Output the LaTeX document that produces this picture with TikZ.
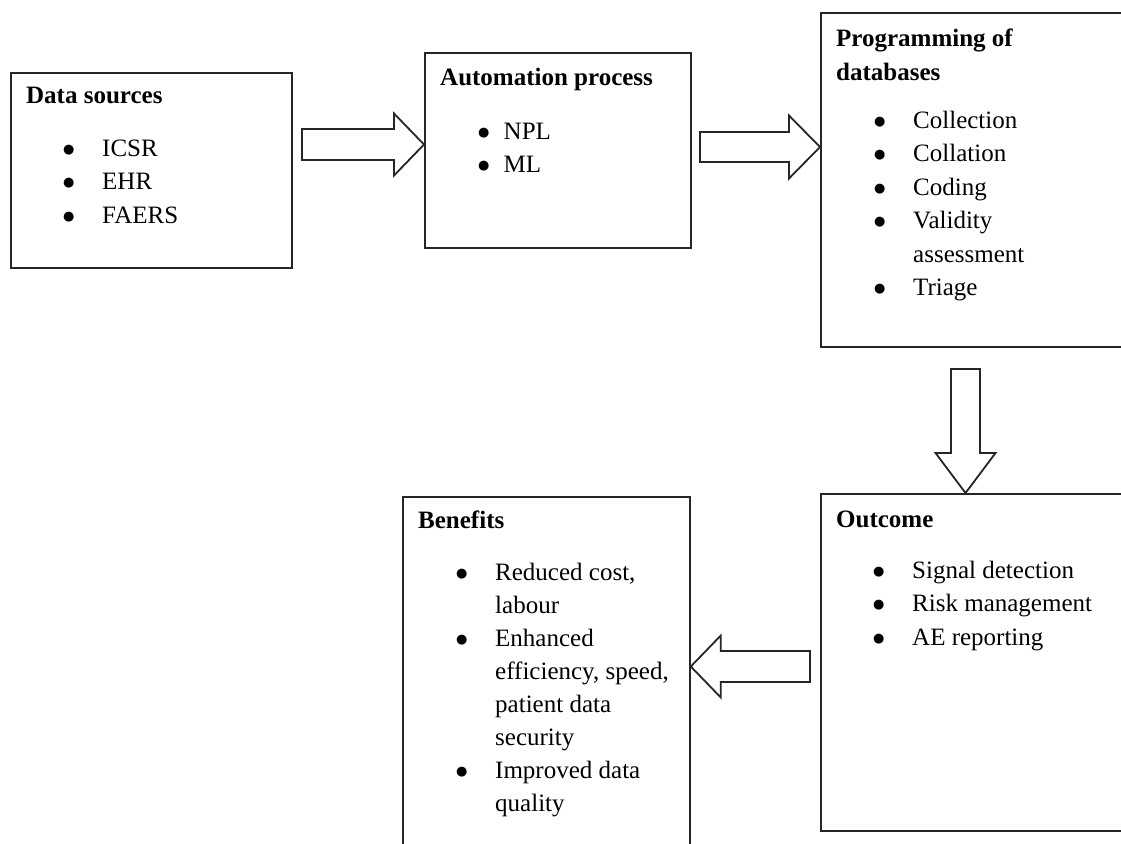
\documentclass[tikz,border=0pt]{standalone}
\usepackage{fontspec}
\setmainfont{Liberation Serif}
\newfontfamily\dvbullet{DejaVu Sans}
\usetikzlibrary{calc}
\tikzset{
  box/.style={draw=black!85, line width=1.8pt, inner sep=0pt, anchor=north west},
  ttl/.style={anchor=base west, inner sep=0pt, font=\fontsize{25}{33.5}\selectfont\bfseries},
  items/.style={anchor=base west, inner sep=0pt, font=\fontsize{25}{33.5}\selectfont},
  blockarrow/.style={draw=black!85, line width=1.8pt, fill=white, line join=miter}
}
\newcommand{\bl}[1]{\makebox[#1][l]{\raisebox{3pt}{\dvbullet\fontsize{13}{13}\selectfont ●}}}
\begin{document}
\begin{tikzpicture}[x=1pt,y=-1pt]
\useasboundingbox (0,0) rectangle (1121,843);
\clip (0,0) rectangle (1121,843);
\fill[white] (0,0) rectangle (1121,843);

% boxes
\node[box, minimum width=281pt, minimum height=195pt] (ds) at (10,72) {};
\node[box, minimum width=266pt, minimum height=195pt] (ap) at (424,52) {};
\node[box, minimum width=330pt, minimum height=334pt] (pd) at (820,12) {};
\node[box, minimum width=330pt, minimum height=337pt] (oc) at (820,493) {};
\node[box, minimum width=287pt, minimum height=370pt] (bf) at (402,496) {};

% texts
\node[ttl] (dst) at (26,103) {Data sources};
\node[items] (dsi) at (63,156) {\begin{tabular}[t]{@{}l@{}l@{}}
\bl{39pt} & ICSR\\ \bl{39pt} & EHR\\ \bl{39pt} & FAERS\end{tabular}};

\node[ttl] (apt) at (440,85) {Automation process};
\node[items] (api) at (478,139) {\begin{tabular}[t]{@{}l@{}l@{}}
\bl{25.5pt} & NPL\\ \bl{25.5pt} & ML\end{tabular}};

\node[ttl] (pdt) at (836,47) {\begin{tabular}[t]{@{}l@{}}Programming of\\ databases\end{tabular}};
\node[items] (pdi) at (874,128) {\begin{tabular}[t]{@{}l@{}l@{}}
\bl{39pt} & Collection\\ \bl{39pt} & Collation\\ \bl{39pt} & Coding\\
\bl{39pt} & Validity\\ & assessment\\ \bl{39pt} & Triage\end{tabular}};

\node[ttl] (oct) at (836,527) {Outcome};
\node[items] (oci) at (873,578) {\begin{tabular}[t]{@{}l@{}l@{}}
\bl{39pt} & Signal detection\\ \bl{39pt} & Risk management\\ \bl{39pt} & AE reporting\end{tabular}};

\node[ttl] (bft) at (418,528) {Benefits};
\node[items, font=\fontsize{25}{33}\selectfont] (bfi) at (456,580) {\begin{tabular}[t]{@{}l@{}l@{}}
\bl{39pt} & Reduced cost,\\ & labour\\ \bl{39pt} & Enhanced\\ & efficiency, speed,\\
& patient data\\ & security\\ \bl{39pt} & Improved data\\ & quality\end{tabular}};

% block arrows
\coordinate (a1t) at (302,144.5);
\coordinate (a1h) at (ap.west |- a1t);
\draw[blockarrow] ($(a1t)+(0,-15.5)$) -- ($(a1h)+(-30,-15.5)$) -- ($(a1h)+(-30,-31)$) -- (a1h)
  -- ($(a1h)+(-30,31)$) -- ($(a1h)+(-30,15.5)$) -- ($(a1t)+(0,15.5)$) -- cycle;

\coordinate (a2t) at (700,147);
\coordinate (a2h) at (pd.west |- a2t);
\draw[blockarrow] ($(a2t)+(0,-15)$) -- ($(a2h)+(-31,-15)$) -- ($(a2h)+(-31,-31.5)$) -- (a2h)
  -- ($(a2h)+(-31,31.5)$) -- ($(a2h)+(-31,15)$) -- ($(a2t)+(0,15)$) -- cycle;

\coordinate (a3t) at (965.5,369);
\coordinate (a3h) at (a3t |- oc.north);
\draw[blockarrow] ($(a3t)+(-14.5,0)$) -- ($(a3h)+(-14.5,-40)$) -- ($(a3h)+(-30,-40)$) -- (a3h)
  -- ($(a3h)+(30,-40)$) -- ($(a3h)+(14.5,-40)$) -- ($(a3t)+(14.5,0)$) -- cycle;

\coordinate (a4t) at (810,666.5);
\coordinate (a4h) at (bf.east |- a4t);
\draw[blockarrow] ($(a4t)+(0,-15.5)$) -- ($(a4h)+(30,-15.5)$) -- ($(a4h)+(30,-31)$) -- (a4h)
  -- ($(a4h)+(30,31)$) -- ($(a4h)+(30,15.5)$) -- ($(a4t)+(0,15.5)$) -- cycle;
\end{tikzpicture}
\end{document}
